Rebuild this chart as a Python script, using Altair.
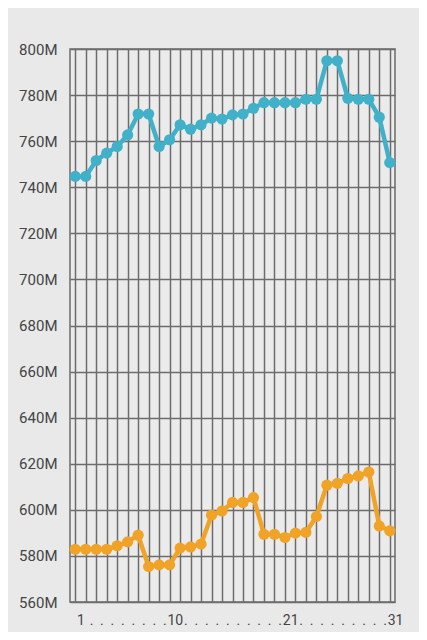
import altair as alt
import pandas as pd

days = list(range(1, 32))
upper = [744.7, 744.7, 751.6, 754.8, 757.7, 762.7, 771.8, 771.8, 757.7, 760.6,
         767.1, 765.2, 767.1, 770.0, 769.6, 771.4, 771.8, 774.3, 776.7, 776.7,
         776.7, 776.7, 778.2, 778.2, 794.9, 794.9, 778.6, 778.2, 778.2, 770.4,
         750.7]
lower = [582.9, 582.9, 582.9, 582.9, 584.4, 586.1, 589.0, 575.4, 576.1, 576.1,
         583.4, 583.9, 585.1, 597.7, 599.5, 603.2, 603.2, 605.3, 589.4, 589.4,
         588.0, 589.9, 590.2, 597.1, 610.7, 611.5, 613.6, 614.7, 616.4, 593.0,
         590.9]
series_names = ["upper", "lower"]
series_colors = ["#41b1c9", "#f0a326"]
y_ticks = [560, 580, 600, 620, 640, 660, 680, 700, 720, 740, 760, 780, 800]
shown_labels = ["1", "10", "21", "31"]

rows = []
for name, vals in zip(series_names, [upper, lower]):
    for d, v in zip(days, vals):
        rows.append({"day": d, "value": v, "series": name})
df = pd.DataFrame(rows)

FONT = "Roboto"
GRID = "#6c6c6c"

x_enc = alt.X(
    "day:O",
    scale=alt.Scale(paddingInner=0, paddingOuter=0),
    axis=alt.Axis(
        title=None,
        grid=True,
        gridColor=GRID,
        gridWidth=1.5,
        gridOpacity=1,
        bandPosition=0,
        ticks=False,
        tickSize=0,
        domain=False,
        labelAngle=0,
        labelOffset=5.25,
        labelPadding=11,
        labelOverlap=False,
        labelFlush=False,
        labelFont=FONT,
        labelFontSize=14,
        labelColor="#444444",
        labelExpr="indexof(" + str(shown_labels) + ", datum.label) >= 0 ? datum.label : '.'",
    ),
)
y_enc = alt.Y(
    "value:Q",
    scale=alt.Scale(domain=[560, 800], nice=False, zero=False),
    axis=alt.Axis(
        title=None,
        values=y_ticks,
        grid=True,
        gridColor=GRID,
        gridWidth=1.5,
        gridOpacity=1,
        ticks=False,
        tickSize=0,
        domain=False,
        labelPadding=13,
        labelFont=FONT,
        labelFontSize=15,
        labelColor="#444444",
        labelExpr="datum.value + 'M'",
    ),
)
color_enc = alt.Color(
    "series:N",
    scale=alt.Scale(domain=series_names, range=series_colors),
    legend=None,
)

base = alt.Chart(df).encode(x=x_enc, y=y_enc, color=color_enc, detail="series:N")
lines = base.mark_line(strokeWidth=4.5)
points = base.mark_circle(size=125, opacity=1)

chart = alt.layer(lines, points).properties(
    width=325,
    height=553,
    autosize=alt.AutoSizeParams(type="none"),
    padding={"left": 62, "top": 41, "right": 24, "bottom": 30},
    background="#e9e9e9",
    view=alt.ViewBackground(fill="#ebebeb", stroke=GRID, strokeWidth=1.5),
)

chart.save("out.html", embed_options={"renderer": "svg", "actions": False})
